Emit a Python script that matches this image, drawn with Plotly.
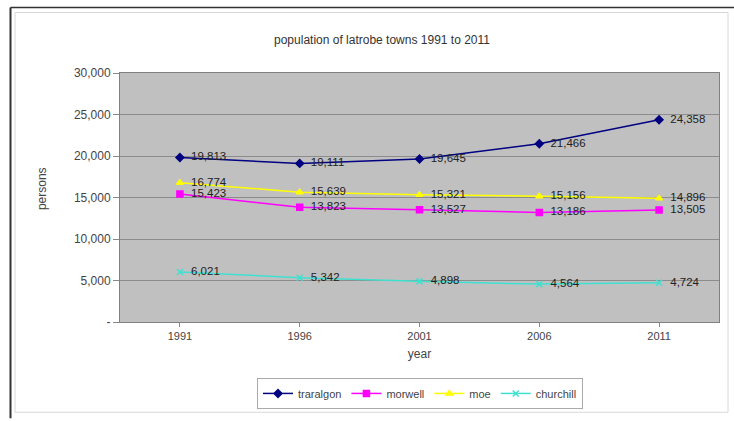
import plotly.graph_objects as go

years = ["1991", "1996", "2001", "2006", "2011"]
traralgon = [19813, 19111, 19645, 21466, 24358]
morwell = [15423, 13823, 13527, 13186, 13505]
moe = [16774, 15639, 15321, 15156, 14896]
churchill = [6021, 5342, 4898, 4564, 4724]
series_names = ["traralgon", "morwell", "moe", "churchill"]
y_tickvals = [0, 5000, 10000, 15000, 20000, 25000, 30000]
y_ticktext = ["-", "5,000", "10,000", "15,000", "20,000", "25,000", "30,000"]

W, H = 734, 421
L, R, T, B = 120, 15, 73, 97

styles = [
    dict(color="#000080", symbol="diamond", size=6),
    dict(color="#ff00ff", symbol="square", size=6),
    dict(color="#ffff00", symbol="triangle-up", size=6),
    dict(color="#40e0d0", symbol="x-thin", size=6),
]

fig = go.Figure()
for name, vals, st in zip(series_names, [traralgon, morwell, moe, churchill], styles):
    fig.add_trace(go.Scatter(
        x=years, y=vals, name=name, mode="lines+markers+text",
        line=dict(color=st["color"], width=1.5),
        marker=dict(color=st["color"], symbol=st["symbol"], size=st["size"],
                    line=dict(color=st["color"], width=1.5)),
        text=["\u00a0\u00a0" + f"{v:,}" for v in vals], textposition="middle right",
        textfont=dict(family="Liberation Sans, Arial", size=11.5, color="#222222"),
        cliponaxis=False,
    ))

def px_x(x):
    return (x - L) / (W - L - R)

def px_y(y):
    return (H - B - y) / (H - T - B)

shapes = [
    dict(type="line", xref="paper", yref="paper", x0=px_x(10.5), x1=px_x(734), y0=px_y(7), y1=px_y(7),
         line=dict(color="#333333", width=1.5)),
    dict(type="line", xref="paper", yref="paper", x0=px_x(10.5), x1=px_x(10.5), y0=px_y(7), y1=px_y(421),
         line=dict(color="#333333", width=2)),
    dict(type="rect", xref="paper", yref="paper", x0=px_x(15), x1=px_x(728), y0=px_y(12), y1=px_y(415),
         line=dict(color="#d8d8d8", width=1)),
]

fig.update_layout(
    width=W, height=H,
    margin=dict(l=L, r=R, t=T, b=B),
    paper_bgcolor="white",
    plot_bgcolor="#c0c0c0",
    font=dict(family="Liberation Sans, Arial", size=11, color="#333333"),
    title=dict(text="population of latrobe towns 1991 to 2011", x=382 / W, xanchor="center",
               y=1 - 40 / H, yanchor="middle", font=dict(size=12, color="#333333")),
    xaxis=dict(type="category", range=[-0.5, 4.5], showgrid=False, ticks="outside", ticklen=4,
               tickcolor="#888888", showline=True, linecolor="#808080", mirror=True, linewidth=1,
               tickfont=dict(size=11, color="#444444"),
               title=dict(text="year", font=dict(size=12, color="#444444"), standoff=8)),
    yaxis=dict(range=[0, 30000], tickvals=y_tickvals, ticktext=y_ticktext,
               showgrid=True, gridcolor="#8c8c8c", gridwidth=1, ticks="outside", ticklen=6,
               tickcolor="#888888", showline=True, linecolor="#808080", mirror=True, linewidth=1,
               tickfont=dict(size=12, color="#444444"), zeroline=False),
    showlegend=True,
    legend=dict(orientation="h", x=px_x(420), xanchor="center", y=px_y(396), yanchor="middle",
                xref="paper", yref="paper",
                bordercolor="#aaaaaa", borderwidth=1, bgcolor="white",
                font=dict(size=11, color="#444444"), itemwidth=30, tracegroupgap=0),
    shapes=shapes,
    annotations=[dict(text="persons", xref="paper", yref="paper", x=px_x(42), y=px_y(190),
                      textangle=-90, showarrow=False, font=dict(size=12, color="#444444"),
                      xanchor="center", yanchor="middle")],
)

fig.write_html("out.html")
